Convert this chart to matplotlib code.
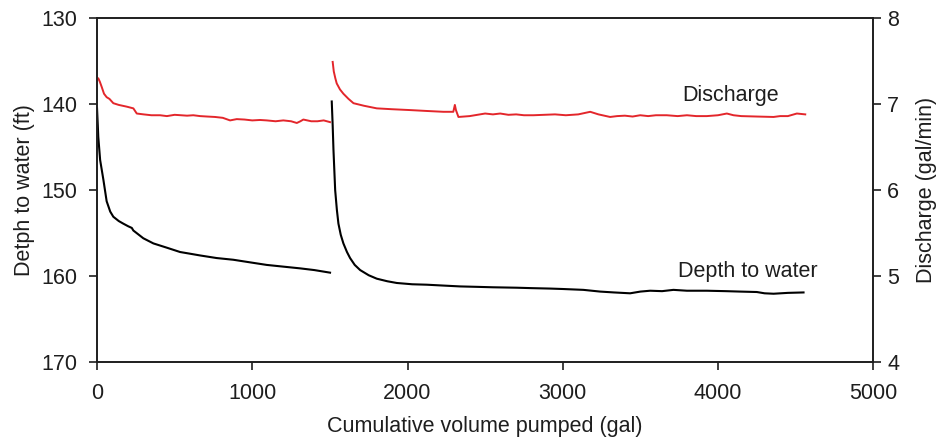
import matplotlib
matplotlib.use("Agg")
import matplotlib.pyplot as plt

plt.rcParams['font.family'] = ['Liberation Sans', 'DejaVu Sans']

# depth to water (ft), two pumping runs
depth_vol_1 = [0, 5, 8, 20, 41, 62, 85, 105, 140, 169, 200, 224, 234, 298, 363, 450,
               535, 600, 664, 770, 878, 985, 1093, 1200, 1308, 1400, 1501]
depth_ft_1 = [140.5, 142.5, 143.8, 146.5, 148.8, 151.3, 152.5, 153.1, 153.6, 153.9, 154.2,
              154.4, 154.7, 155.6, 156.2, 156.7, 157.2, 157.4, 157.6, 157.9, 158.1, 158.4,
              158.7, 158.9, 159.1, 159.3, 159.6]
depth_vol_2 = [1512, 1518, 1523, 1534, 1545, 1555, 1570, 1587, 1610, 1630, 1660, 1695,
               1750, 1802, 1870, 1931, 2030, 2124, 2230, 2339, 2450, 2550, 2704, 2800,
               2919, 3000, 3133, 3241, 3330, 3434, 3500, 3563, 3640, 3713, 3800, 3928,
               4050, 4143, 4250, 4300, 4358, 4450, 4551]
depth_ft_2 = [139.7, 142.5, 145.3, 150.0, 152.3, 153.9, 155.2, 156.2, 157.2, 157.9, 158.7,
              159.3, 159.9, 160.3, 160.6, 160.8, 160.95, 161.0, 161.1, 161.2, 161.25, 161.3,
              161.35, 161.4, 161.45, 161.5, 161.6, 161.8, 161.9, 162.0, 161.8, 161.7,
              161.75, 161.6, 161.7, 161.7, 161.75, 161.8, 161.85, 162.0, 162.05, 161.95, 161.9]

# discharge (gal/min)
q_vol_1 = [0, 8, 18, 30, 45, 62, 80, 105, 140, 191, 234, 256, 300, 350, 406, 450, 500,
           540, 580, 620, 664, 710, 760, 810, 857, 900, 950, 1000, 1050, 1093, 1150,
           1200, 1250, 1287, 1310, 1329, 1380, 1420, 1460, 1501]
q_gpm_1 = [7.28, 7.30, 7.26, 7.20, 7.12, 7.08, 7.06, 7.01, 6.99, 6.97, 6.95, 6.89, 6.88,
           6.87, 6.87, 6.86, 6.875, 6.87, 6.865, 6.87, 6.86, 6.855, 6.85, 6.84, 6.81,
           6.825, 6.82, 6.81, 6.815, 6.81, 6.80, 6.81, 6.80, 6.78, 6.80, 6.82, 6.80,
           6.80, 6.81, 6.79]
q_vol_2 = [1518, 1525, 1535, 1544, 1565, 1587, 1620, 1652, 1720, 1802, 1900, 2017, 2120,
           2231, 2295, 2305, 2312, 2328, 2400, 2450, 2500, 2550, 2597, 2650, 2700, 2750,
           2811, 2880, 2950, 3020, 3100, 3177, 3230, 3305, 3350, 3400, 3450, 3499, 3550,
           3600, 3670, 3740, 3800, 3860, 3928, 4000, 4057, 4100, 4150, 4250, 4358, 4400,
           4450, 4508, 4562]
q_gpm_2 = [7.49, 7.38, 7.30, 7.24, 7.17, 7.12, 7.06, 7.01, 6.98, 6.95, 6.94, 6.93, 6.92,
           6.91, 6.91, 6.99, 6.93, 6.85, 6.86, 6.875, 6.89, 6.88, 6.89, 6.875, 6.88, 6.87,
           6.87, 6.875, 6.88, 6.87, 6.88, 6.91, 6.88, 6.85, 6.86, 6.865, 6.855, 6.87,
           6.86, 6.87, 6.87, 6.86, 6.87, 6.86, 6.86, 6.87, 6.89, 6.87, 6.86, 6.855, 6.85,
           6.86, 6.86, 6.89, 6.88]

fs = 15.5
ink = '#1e1e1e'
fig = plt.figure(figsize=(9.42, 4.40), dpi=100)
ax = fig.add_axes([0.103, 0.177, 0.824, 0.782])
ax2 = ax.twinx()

ax.plot(depth_vol_1, depth_ft_1, color='black', lw=1.5)
ax.plot(depth_vol_2, depth_ft_2, color='black', lw=1.5)
ax2.plot(q_vol_1, q_gpm_1, color='#e3262b', lw=1.4)
ax2.plot(q_vol_2, q_gpm_2, color='#e3262b', lw=1.4)

ax.set_xlim(0, 5000)
ax.set_ylim(170, 130)
ax2.set_ylim(4, 8)
ax.set_xticks([0, 1000, 2000, 3000, 4000, 5000])
ax.set_yticks([130, 140, 150, 160, 170])
ax2.set_yticks([4, 5, 6, 7, 8])

ax.tick_params(axis='both', direction='out', length=6, width=1.2, labelsize=fs, colors=ink)
ax.tick_params(axis='x', pad=9)
ax.tick_params(axis='y', pad=8)
ax2.tick_params(axis='y', direction='out', length=6, width=1.2, labelsize=fs, pad=4, colors=ink)
for a in (ax, ax2):
    for s in a.spines.values():
        s.set_linewidth(1.2)
        s.set_color(ink)

ax.set_xlabel('Cumulative volume pumped (gal)', fontsize=fs, color=ink, labelpad=9)
ax.set_ylabel('Detph to water (ft)', fontsize=fs, color=ink, labelpad=5)
ax2.set_ylabel('Discharge (gal/min)', fontsize=fs, color=ink, labelpad=12)

ax2.text(4079, 7.10, 'Discharge', fontsize=fs, color=ink, ha='center', va='center')
ax.text(4195, 159.5, 'Depth to water', fontsize=fs, color=ink, ha='center', va='center')

fig.savefig('out.png', dpi=100)
